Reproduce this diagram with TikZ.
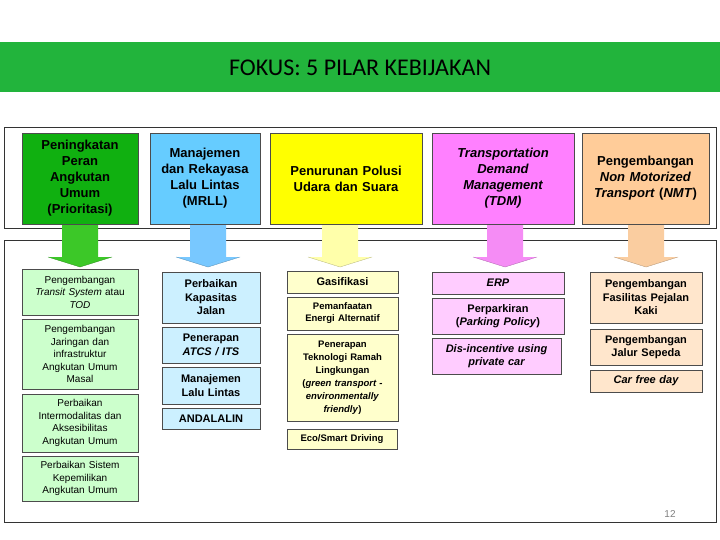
\documentclass[tikz,border=0pt]{standalone}
\usepackage{fontspec}
\setmainfont{Liberation Sans}
\newfontfamily\titlefont{Carlito}
\definecolor{bannergreen}{RGB}{34,180,60}
\definecolor{cgreen}{RGB}{16,176,16}
\definecolor{cblue}{RGB}{102,204,255}
\definecolor{cyellow}{RGB}{255,255,0}
\definecolor{cpink}{RGB}{255,128,255}
\definecolor{cpeach}{RGB}{255,204,153}
\definecolor{lgreen}{RGB}{204,255,204}
\definecolor{lblue}{RGB}{204,240,255}
\definecolor{lyellow}{RGB}{255,255,204}
\definecolor{lpink}{RGB}{255,204,255}
\definecolor{lpeach}{RGB}{255,230,204}
\definecolor{agreen}{RGB}{60,200,40}
\definecolor{ablue}{RGB}{120,200,255}
\definecolor{ayellow}{RGB}{255,255,170}
\definecolor{apink}{RGB}{245,140,245}
\definecolor{apeach}{RGB}{250,205,160}
\tikzset{
 box/.style={draw=black!70,line width=0.6pt,align=center,inner sep=1pt},
 topbox/.style={box,font=\bfseries\fontsize{13}{16}\selectfont},
 sub/.style={box,font=\fontsize{10}{12.5}\selectfont},
 subb/.style={box,font=\bfseries\fontsize{11}{13.5}\selectfont},
 frame/.style={draw=black!80,line width=0.8pt},
}
\newcommand{\bx}[7]{\node[#1,fill=#2,minimum width=#4-#3,minimum height=#6-#5,text width=#4-#3-4] (#7) at ({(#3+#4)/2},{(#5+#6)/2})}
\newcommand{\arr}[3]{\fill[#3] (#1-18,224) -- (#1+18,224) -- (#1+18,257) -- (#1+32,257) -- (#1,267) -- (#1-32,257) -- (#1-18,257) -- cycle;\draw[#3!70!black,line width=0.3pt] (#1-32,257) -- (#1,267) -- (#1+32,257);}
\begin{document}
\begin{tikzpicture}[x=1pt,y=-1pt]
\useasboundingbox (0,0) rectangle (720,540);
\fill[white] (0,0) rectangle (720,540);
\fill[bannergreen] (0,42) rectangle (720,92);
\node (title) at (360,68) {\titlefont\fontsize{24}{28}\selectfont FOKUS: 5 PILAR KEBIJAKAN};
\draw[frame] (4,127) rectangle (716,228);
\draw[frame] (4,240) rectangle (716,522);
\arr{80}{0}{agreen}
\arr{208}{0}{ablue}
\arr{340}{0}{ayellow}
\arr{505}{0}{apink}
\arr{646}{0}{apeach}
\bx{topbox}{cgreen}{22}{138}{133}{224}{t1} {Peningkatan\\Peran\\Angkutan\\Umum\\(Prioritasi)};
\bx{topbox}{cblue}{150}{260}{133}{224}{t2} {Manajemen\\dan Rekayasa\\Lalu Lintas\\(MRLL)};
\bx{topbox}{cyellow}{270}{422}{133}{224}{t3} {Penurunan Polusi\\Udara dan Suara};
\bx{topbox}{cpink}{432}{574}{133}{224}{t4} {\itshape Transportation\\\itshape Demand\\\itshape Management\\(\textit{TDM})};
\bx{topbox}{cpeach}{582}{709}{133}{224}{t5} {Pengembangan\\\textit{Non Motorized}\\\textit{Transport} (\textit{NMT})};
% col1
\bx{sub}{lgreen}{22}{138}{269}{315}{a1} {Pengembangan\\\textit{Transit System} atau\\\textit{TOD}};
\bx{sub}{lgreen}{22}{138}{319}{389}{a2} {Pengembangan\\Jaringan dan\\infrastruktur\\Angkutan Umum\\Masal};
\bx{sub}{lgreen}{22}{138}{394}{452}{a3} {Perbaikan\\Intermodalitas dan\\Aksesibilitas\\Angkutan Umum};
\bx{sub}{lgreen}{22}{138}{456}{501}{a4} {Perbaikan Sistem\\Kepemilikan\\Angkutan Umum};
% col2
\bx{subb}{lblue}{162}{260}{272}{323}{b1} {Perbaikan\\Kapasitas\\Jalan};
\bx{subb}{lblue}{162}{260}{327}{363}{b2} {Penerapan\\\textit{ATCS / ITS}};
\bx{subb}{lblue}{162}{260}{367}{404}{b3} {Manajemen\\Lalu Lintas};
\bx{subb}{lblue}{162}{260}{408}{429}{b4} {ANDALALIN};
% col3
\bx{subb}{lyellow}{287}{398}{271}{293}{c1} {Gasifikasi};
\bx{sub}{lyellow,font=\bfseries\fontsize{9.5}{12}\selectfont}{287}{398}{297}{330}{c2} {Pemanfaatan\\Energi Alternatif};
\bx{sub}{lyellow,font=\bfseries\fontsize{9.5}{13}\selectfont}{287}{398}{334}{421}{c3} {Penerapan\\Teknologi Ramah\\Lingkungan\\(\textit{green transport -}\\\textit{environmentally}\\\textit{friendly})};
\bx{sub}{lyellow,font=\bfseries\fontsize{9.5}{12}\selectfont}{287}{397}{429}{449}{c4} {Eco/Smart Driving};
% col4
\bx{subb}{lpink}{432}{564}{272}{294}{d1} {\itshape ERP};
\bx{subb}{lpink}{432}{564}{298}{334}{d2} {Perparkiran\\(\textit{Parking Policy})};
\bx{subb}{lpink}{432}{561}{338}{374}{d3} {\itshape Dis-incentive using\\\itshape private car};
% col5
\bx{subb}{lpeach}{590}{702}{272}{323}{e1} {Pengembangan\\Fasilitas Pejalan\\Kaki};
\bx{subb}{lpeach}{590}{702}{329}{365}{e2} {Pengembangan\\Jalur Sepeda};
\bx{subb}{lpeach}{590}{702}{370}{392}{e3} {\itshape Car free day};
\node[text=black!50,font=\fontsize{10}{12}\selectfont] (pg) at (670,514) {12};
\end{tikzpicture}
\end{document}
